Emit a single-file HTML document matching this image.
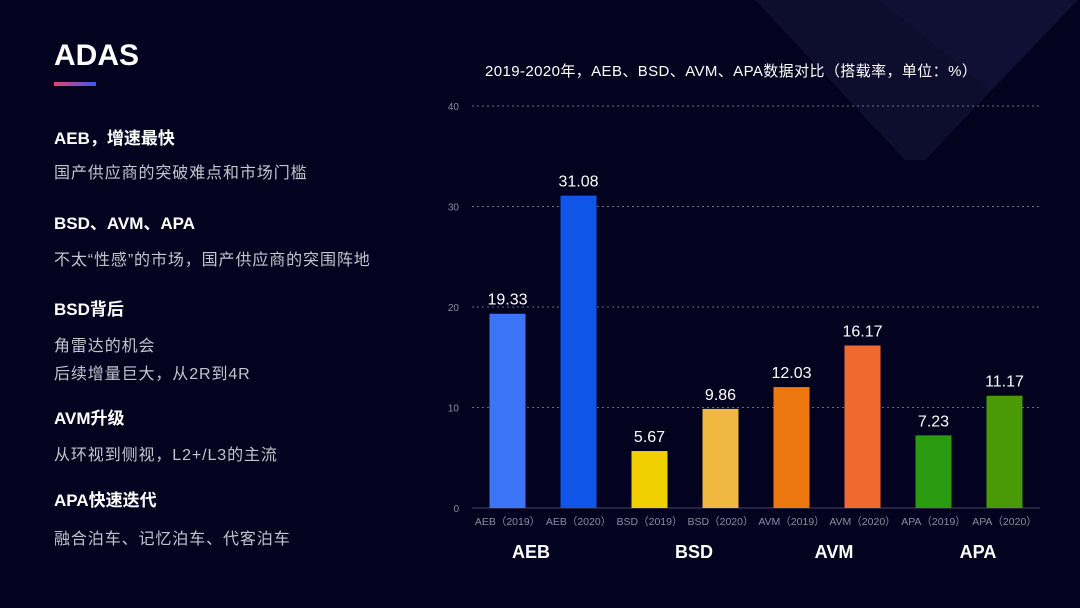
<!DOCTYPE html>
<html><head><meta charset="utf-8">
<style>
body{margin:0;width:1080px;height:608px;background:#03031f;overflow:hidden;font-family:"Liberation Sans","Noto Sans CJK SC",sans-serif;color:#fff;position:relative}
.t{position:absolute;left:54px;white-space:nowrap}
.h{font-size:17px;font-weight:bold;color:#fff}
.b{font-size:16px;color:#c4c4cc;letter-spacing:0.9px}
</style></head><body>
<svg width="1080" height="608" style="position:absolute;left:0;top:0">
<polygon points="755,0 1078,0 925,160 905,160" fill="#0d0d2e"/>
<polygon points="880,0 1078,0 990,90" fill="#12123a" opacity="0.6"/>
</svg>
<div class="t" style="top:39px;font-size:30px;font-weight:bold">ADAS</div>
<div style="position:absolute;left:54px;top:82px;width:42px;height:4px;background:linear-gradient(90deg,#e8406a,#3a5cf0)"></div>
<div class="t h" style="top:124px">AEB，增速最快</div>
<div class="t b" style="top:159px">国产供应商的突破难点和市场门槛</div>
<div class="t h" style="top:209px">BSD、AVM、APA</div>
<div class="t b" style="top:246px">不太“性感”的市场，国产供应商的突围阵地</div>
<div class="t h" style="top:295px">BSD背后</div>
<div class="t b" style="top:332px">角雷达的机会</div>
<div class="t b" style="top:360px">后续增量巨大，从2R到4R</div>
<div class="t h" style="top:404px">AVM升级</div>
<div class="t b" style="top:441px">从环视到侧视，L2+/L3的主流</div>
<div class="t h" style="top:486px">APA快速迭代</div>
<div class="t b" style="top:525px">融合泊车、记忆泊车、代客泊车</div>
<svg id="chart" width="1080" height="608" style="position:absolute;left:0;top:0"></svg>
<script>
const categories=["AEB（2019）","AEB（2020）","BSD（2019）","BSD（2020）","AVM（2019）","AVM（2020）","APA（2019）","APA（2020）"];
const values=[19.33,31.08,5.67,9.86,12.03,16.17,7.23,11.17];
const colors=["#3b74f4","#0f55e8","#f0d000","#f0b840","#ee7810","#f06a30","#2a9a10","#4a9a08"];
const yTicks=[0,10,20,30,40];
const groups=["AEB","BSD","AVM","APA"];
const NS="http://www.w3.org/2000/svg";
const svg=document.getElementById('chart');
const x0=472,bw=71,y0=508,ppu=402/40;
const y=v=>y0-v*ppu;
const xc=i=>x0+bw*(i+0.5);
function mk(t,a,txt){const e=document.createElementNS(NS,t);for(const k in a)e.setAttribute(k,a[k]);if(txt!==undefined)e.textContent=txt;svg.appendChild(e);return e;}
let e=mk('text',{x:485,y:76,fill:'#fff','font-size':15,'letter-spacing':0.4},"2019-2020年，AEB、BSD、AVM、APA数据对比（搭载率，单位：%）");

yTicks.forEach(t=>{
 if(t>0){const l=mk('line',{x1:472,x2:1040,y1:y(t),y2:y(t),stroke:'#666a88','stroke-dasharray':'2,3','stroke-width':1});
 }
 const tx=mk('text',{x:459,y:y(t)+4,fill:'#8a8ca0','font-size':10,'text-anchor':'end'},t);
 
});
const ax=mk('line',{x1:472,x2:1040,y1:y0,y2:y0,stroke:'#444660','stroke-width':1});

values.forEach((v,i)=>{
 const r=mk('rect',{x:xc(i)-18,y:y(v),width:36,height:y0-y(v),fill:colors[i]});
 
 const lb=mk('text',{x:xc(i),y:y(v)-9,fill:'#fff','font-size':16,'text-anchor':'middle'},v.toFixed(2));
 
 const cl=mk('text',{x:xc(i),y:525,fill:'#8a8ca0','font-size':10.5,'text-anchor':'middle'},categories[i]);
 
});
groups.forEach((g,j)=>{
 const gx=j==0?531:(j==1?694:(j==2?834:978));
 const gl=mk('text',{x:gx,y:558,fill:'#fff','font-size':18,'font-weight':'bold','text-anchor':'middle'},g);
 
});
</script>
</body></html>
